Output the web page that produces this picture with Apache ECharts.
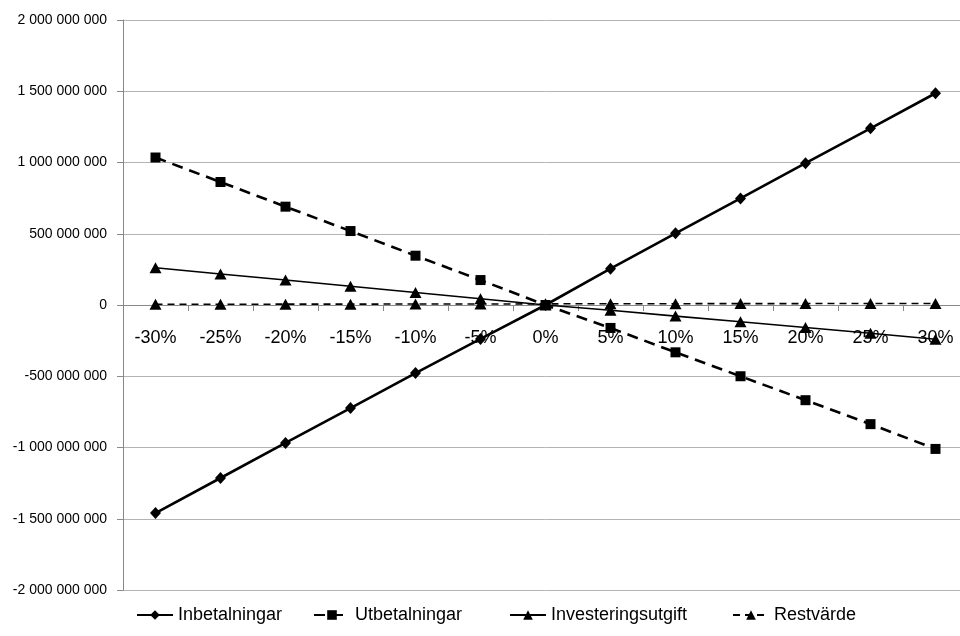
<!DOCTYPE html>
<html>
<head>
<meta charset="utf-8">
<script src="https://cdn.jsdelivr.net/npm/echarts@6/dist/echarts.min.js"></script>
<style>
html,body{margin:0;padding:0;background:#fff;overflow:hidden;width:960px;height:636px;}
#chart{width:972px;height:636px;}
</style>
</head>
<body>
<div id="chart"></div>
<script>
var categories = ['-30%','-25%','-20%','-15%','-10%','-5%','0%','5%','10%','15%','20%','25%','30%'];
var inbetalningar = [-1460000000,-1214000000,-968000000,-723000000,-478000000,-238000000,0,255000000,503000000,748000000,995000000,1240000000,1486000000];
var utbetalningar = [1035000000,863000000,690000000,519000000,346000000,175000000,0,-161000000,-332000000,-500000000,-668000000,-836000000,-1010000000];
var investeringsutgift = [261000000,218000000,175000000,132000000,88000000,44000000,0,-37000000,-78000000,-118000000,-158000000,-198000000,-240000000];
var restvarde = [5000000,5000000,6000000,6000000,7000000,7000000,8000000,9000000,9000000,10000000,10000000,11000000,11000000];
var seriesNames = ['Inbetalningar','Utbetalningar','Investeringsutgift','Restvärde'];
var yTickMin = -2000000000, yTickMax = 2000000000, yTickStep = 500000000;

function fmt(v){
  var neg = v < 0; var s = String(Math.abs(Math.round(v)));
  s = s.replace(/\B(?=(\d{3})+(?!\d))/g, ' ');
  return (neg ? '-' : '') + s;
}

var font = 'Liberation Sans';
var gridTop = 20, gridHeight = 570;
// place the category axis at the y=0 line of the value axis
var zeroOffset = -gridHeight * (0 - yTickMin) / (yTickMax - yTickMin);

var chart = echarts.init(document.getElementById('chart'), null, {renderer:'canvas'});

function legendAt(name, left){
  return {
    data:[name], left:left, top:601, orient:'horizontal',
    itemWidth:36, itemHeight:12, itemGap:5,
    textStyle:{fontFamily:font, fontSize:18, color:'#000'},
    selectedMode:false
  };
}

chart.setOption({
  animation:false,
  backgroundColor:'#fff',
  grid:{left:123, top:gridTop, width:845, height:gridHeight, containLabel:false},
  legend:[legendAt(seriesNames[0],131), legendAt(seriesNames[1],308), legendAt(seriesNames[2],504), legendAt(seriesNames[3],727)],
  xAxis:{
    type:'category', data:categories, boundaryGap:true, position:'bottom', offset:zeroOffset,
    axisLine:{onZero:false, lineStyle:{color:'#888', width:1}},
    axisTick:{show:true, inside:false, length:6, lineStyle:{color:'#888'}},
    axisLabel:{margin:24, fontFamily:font, fontSize:18, color:'#000'},
    splitLine:{show:false}, z:1
  },
  yAxis:{
    type:'value', min:yTickMin, max:yTickMax, interval:yTickStep,
    axisLine:{show:true, lineStyle:{color:'#888', width:1}},
    axisTick:{show:true, length:6, lineStyle:{color:'#888'}},
    axisLabel:{margin:16, fontFamily:font, fontSize:14, color:'#000', formatter:fmt},
    splitLine:{show:true, lineStyle:{color:'#b4b4b4', width:1}}
  },
  series:[
    {name:seriesNames[0], type:'line', data:inbetalningar, symbol:'diamond', symbolSize:[11,12],
     lineStyle:{color:'#000', width:2.6}, itemStyle:{color:'#000'}, z:5},
    {name:seriesNames[1], type:'line', data:utbetalningar, symbol:'rect', symbolSize:10,
     lineStyle:{color:'#000', width:2.6, type:[11,7]}, itemStyle:{color:'#000'}, z:4},
    {name:seriesNames[2], type:'line', data:investeringsutgift, symbol:'triangle', symbolSize:[12,11],
     lineStyle:{color:'#000', width:1.6}, itemStyle:{color:'#000'}, z:3},
    {name:seriesNames[3], type:'line', data:restvarde, symbol:'triangle', symbolSize:[12,11],
     lineStyle:{color:'#000', width:1.6, type:[7,5]}, itemStyle:{color:'#000'}, z:2}
  ]
});
</script>
</body>
</html>
